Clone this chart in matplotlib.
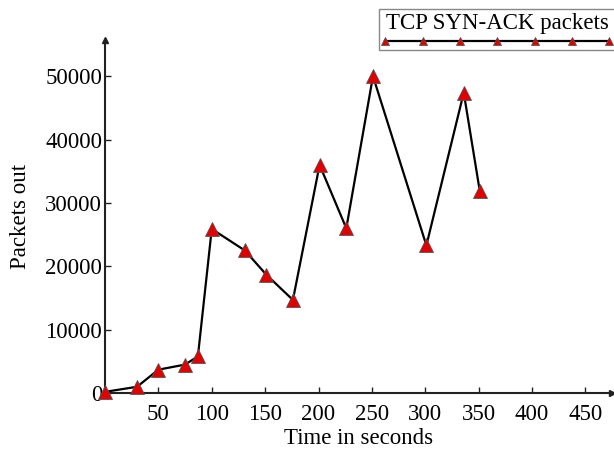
import numpy as np
import matplotlib
matplotlib.use('Agg')
import matplotlib.pyplot as plt

plt.rcParams['font.family'] = ['Liberation Serif', 'DejaVu Serif']

# data
time_s = [0, 30, 50, 75, 87, 100, 131, 151, 176, 201, 226, 251, 301, 336, 351]
packets_out = [200, 1000, 3700, 4500, 5800, 25900, 22500, 18700, 14700,
               36000, 26000, 50000, 23300, 47400, 31900]
xticks = [50, 100, 150, 200, 250, 300, 350, 400, 450]
yticks = [0, 10000, 20000, 30000, 40000, 50000]

fig = plt.figure(figsize=(6.14, 4.55), dpi=100)
ax = fig.add_axes([0.171, 0.136, 0.826, 0.776])

line, = ax.plot(time_s, packets_out, color='black', lw=1.6, marker='^',
                markersize=10, markerfacecolor='#e00000', markeredgecolor='#555555',
                markeredgewidth=0.6, clip_on=False, zorder=3)

ax.set_xlim(0, 475)
ax.set_ylim(0, 55700)
ax.set_xticks(xticks)
ax.set_yticks(yticks)
ax.tick_params(direction='in', length=4, width=1, labelsize=16.5, colors='#222222',
               labelcolor='black')
ax.tick_params(axis='x', pad=8)
ax.tick_params(axis='y', pad=2)

for s in ['top', 'right']:
    ax.spines[s].set_visible(False)
for s in ['left', 'bottom']:
    ax.spines[s].set_linewidth(1.5)
    ax.spines[s].set_color('#222222')

# arrow heads at the end of both axes
ax.plot(1, 0, '>', color='#222222', markersize=5, transform=ax.transAxes, clip_on=False)
ax.plot(0, 1, '^', color='#222222', markersize=5, transform=ax.transAxes, clip_on=False)

ax.set_xlabel('Time in seconds', fontsize=16.5, labelpad=2)
ax.set_ylabel('Packets out', fontsize=16.5, labelpad=10)

# legend: title above a long line with seven markers
leg = ax.legend([line], [''], title='TCP SYN-ACK packets', title_fontsize=16.5,
                numpoints=7, markerscale=0.6, handlelength=27.5, handletextpad=0,
                labelspacing=0, borderpad=0.45, borderaxespad=0,
                loc='upper left', bbox_to_anchor=(379 / 614, 1 - 9 / 455),
                bbox_transform=fig.transFigure, fancybox=False, framealpha=1,
                edgecolor='#888888', fontsize=6)
leg.get_frame().set_linewidth(1.0)
leg._legend_box.sep = 3

fig.savefig('out.png', dpi=100)
